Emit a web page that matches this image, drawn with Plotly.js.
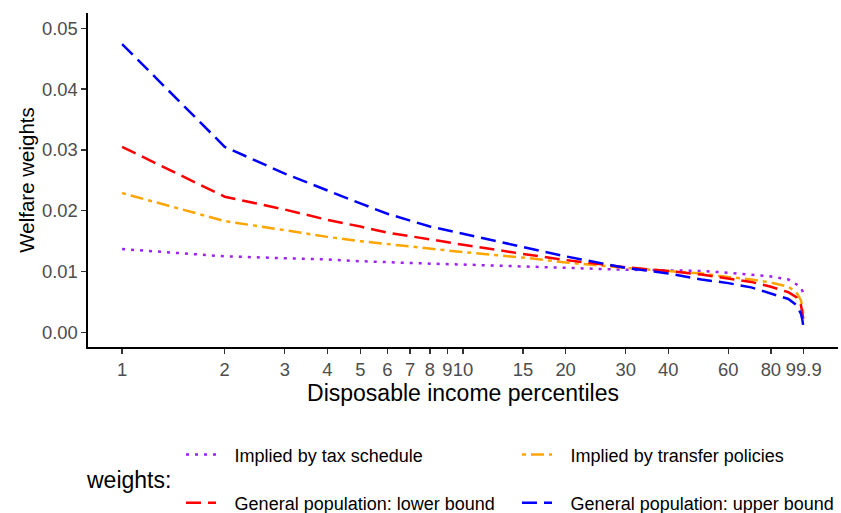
<!DOCTYPE html>
<html>
<head>
<meta charset="utf-8">
<script src="https://cdn.plot.ly/plotly-3.0.1.min.js"></script>
<style>html,body{margin:0;padding:0;background:#fff;}#chart{width:841px;height:513px;}</style>
</head>
<body>
<div id="chart"></div>
<script>
// Percentiles (x values)
const percentiles = [1, 2, 3, 4, 5, 6, 8, 10, 15, 20, 30, 40, 50, 60, 70, 80, 90, 95, 97, 98, 99, 99.9];

// Series values (welfare weights)
const taxSchedule   = [0.0137, 0.0125, 0.0122, 0.0120, 0.0117, 0.0115, 0.0113, 0.01115, 0.0108, 0.0106, 0.0103, 0.0102, 0.0101, 0.0098, 0.0095, 0.0092, 0.0087, 0.0080, 0.0076, 0.0073, 0.0068, 0.0060];
const transferPol   = [0.0229, 0.0183, 0.0168, 0.0157, 0.0150, 0.0145, 0.0138, 0.0132, 0.0123, 0.0115, 0.0106, 0.0101, 0.0097, 0.0091, 0.0087, 0.0082, 0.0075, 0.0066, 0.0058, 0.0053, 0.0040, 0.0025];
const lowerBound    = [0.0305, 0.0223, 0.0202, 0.0185, 0.0174, 0.0164, 0.0153, 0.0144, 0.0129, 0.0119, 0.0107, 0.0101, 0.0095, 0.0088, 0.0083, 0.0075, 0.0066, 0.0058, 0.0050, 0.0045, 0.0031, 0.0018];
const upperBound    = [0.0474, 0.0305, 0.0261, 0.0233, 0.0212, 0.0195, 0.0174, 0.0162, 0.0140, 0.0125, 0.0106, 0.0097, 0.0087, 0.0081, 0.0074, 0.0064, 0.0055, 0.0045, 0.0036, 0.0031, 0.0020, 0.0005];

// Tick labels
const xTickVals = [1, 2, 3, 4, 5, 6, 7, 8, 9, 10, 15, 20, 30, 40, 60, 80, 99.9];
const xTickText = ["1", "2", "3", "4", "5", "6", "7", "8", "9", "10", "15", "20", "30", "40", "60", "80", "99.9"];
const yTickVals = [0, 0.01, 0.02, 0.03, 0.04, 0.05];
const yTickText = ["0.00", "0.01", "0.02", "0.03", "0.04", "0.05"];

const seriesNames = ["Implied by tax schedule", "Implied by transfer policies", "General population: lower bound", "General population: upper bound"];

const FONT = "Liberation Sans, Arial, sans-serif";
const LW = 2.5;
const PAD = "\u00A0\u00A0\u2009";

const traces = [
  {x: percentiles, y: taxSchedule, name: PAD + seriesNames[0], mode: "lines", legend: "legend",
   line: {color: "#A020F0", width: LW, dash: "3px,6px"}},
  {x: percentiles, y: transferPol, name: PAD + seriesNames[1], mode: "lines", legend: "legend",
   line: {color: "#FFA500", width: LW, dash: "4px,5px,13px,5px"}},
  {x: percentiles, y: lowerBound, name: PAD + seriesNames[2], mode: "lines", legend: "legend2",
   line: {color: "#FF0000", width: LW, dash: "15px,7px"}},
  {x: percentiles, y: upperBound, name: PAD + seriesNames[3], mode: "lines", legend: "legend2",
   line: {color: "#0000FF", width: LW, dash: "15px,7px"}}
];

const legendCommon = {
  orientation: "h", xanchor: "left", yanchor: "middle",
  entrywidth: 291, entrywidthmode: "pixels",
  font: {family: FONT, size: 18, color: "#000"},
  bgcolor: "rgba(0,0,0,0)", traceorder: "normal"
};

const layout = {
  width: 841, height: 513,
  margin: {l: 88, r: 3, t: 13, b: 166, autoexpand: false},
  paper_bgcolor: "#fff", plot_bgcolor: "#fff",
  font: {family: FONT},
  showlegend: true,
  xaxis: {
    type: "log", range: [-0.1, 2.1],
    tickvals: xTickVals, ticktext: xTickText, tickangle: 0,
    showgrid: false, zeroline: false,
    showline: true, linecolor: "#000", linewidth: 1.6,
    ticks: "outside", ticklen: 5, tickwidth: 1.4, tickcolor: "#333",
    tickfont: {family: FONT, size: 18.4, color: "#4D4D4D"},
    title: {text: "Disposable income percentiles", font: {family: FONT, size: 23, color: "#000"}, standoff: 2},
    automargin: false
  },
  yaxis: {
    range: [-0.0024, 0.0525],
    tickvals: yTickVals, ticktext: yTickText,
    showgrid: false, zeroline: false,
    showline: true, linecolor: "#000", linewidth: 1.6,
    ticks: "outside", ticklen: 5, tickwidth: 1.4, tickcolor: "#333",
    tickfont: {family: FONT, size: 18.4, color: "#4D4D4D"},
    title: {text: "Welfare weights", font: {family: FONT, size: 20.5, color: "#000"}, standoff: 2},
    automargin: false
  },
  legend: Object.assign({}, legendCommon, {x: 0.124, y: -0.323}),
  legend2: Object.assign({}, legendCommon, {x: 0.124, y: -0.467}),
  annotations: [{
    text: "weights:", xref: "paper", yref: "paper", x: -0.006, y: -0.398,
    xanchor: "left", yanchor: "middle", showarrow: false,
    font: {family: FONT, size: 23, color: "#000"}
  }]
};

Plotly.newPlot("chart", traces, layout, {displayModeBar: false, staticPlot: true});
</script>
</body>
</html>
